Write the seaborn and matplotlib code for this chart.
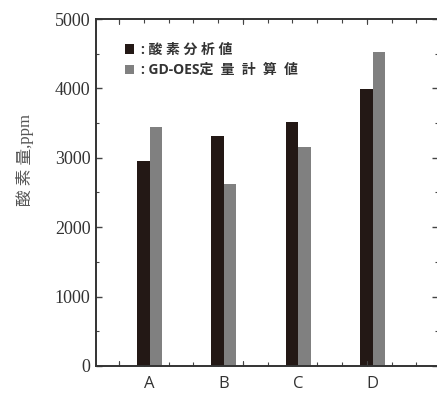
import numpy as np
import pandas as pd
import matplotlib
matplotlib.use("Agg")
import matplotlib.pyplot as plt
from matplotlib.patches import Patch
from matplotlib.ticker import MultipleLocator, FixedLocator
import seaborn as sns

# Oxygen content per sample: chemical analysis vs. GD-OES quantitative calculation
samples = ["A", "B", "C", "D"]
analysis_ppm = [2950, 3320, 3520, 3990]
gdoes_ppm = [3440, 2620, 3150, 4520]
series_names = ["酸素分析値", "GD-OES定量計算値"]
y_ticks = [0, 1000, 2000, 3000, 4000, 5000]

df = pd.DataFrame({
    "sample": samples * 2,
    "ppm": analysis_ppm + gdoes_ppm,
    "series": [series_names[0]] * len(samples) + [series_names[1]] * len(samples),
})

sns.set_theme(style="ticks")
plt.rcParams["font.family"] = ["Liberation Serif", "Noto Sans CJK JP"]

fig = plt.figure(figsize=(4.37, 3.96), dpi=100)
ax = fig.add_axes([0.2197, 0.0758, 0.7826, 0.8762])

bar_colors = ["#231815", "#808080"]
sns.barplot(data=df, x="sample", y="ppm", hue="series", hue_order=series_names,
            palette=bar_colors, width=0.336, gap=0, dodge=True,
            saturation=1, linewidth=0, legend=False, ax=ax)

ax.set_xlim(-0.72, 3.881)
ax.set_ylim(0, 5000)

# y axis
ax.yaxis.set_major_locator(FixedLocator(y_ticks))
ax.yaxis.set_minor_locator(MultipleLocator(500))
ax.set_yticklabels([str(v) for v in y_ticks], fontsize=13,
                   family="Liberation Serif", color="#333333")

# x axis: category labels plus a separate inward tick grid
ax.set_xticks(range(len(samples)))
ax.set_xticklabels(samples, fontsize=12, family="Open Sans", color="#333333")
tick_x = [-0.41 + k / 3 for k in range(14)]
major_x = [tick_x[0], tick_x[5], tick_x[10]]
ax.xaxis.set_minor_locator(FixedLocator(tick_x))

ax.tick_params(axis="both", which="both", direction="in", color="#444444",
               top=True, right=True)
ax.tick_params(axis="y", which="major", length=4, width=1, pad=4)
ax.tick_params(axis="y", which="minor", length=2.5, width=0.8)
ax.tick_params(axis="x", which="major", length=0, pad=7)
ax.tick_params(axis="x", which="minor", length=3, width=0.8)
# longer ticks at every fifth x tick
for xm in major_x:
    ax.plot([xm, xm], [0, 75], color="#444444", lw=0.8, clip_on=False)
    ax.plot([xm, xm], [5000, 4925], color="#444444", lw=0.8, clip_on=False)

for side in ["left", "bottom", "top", "right"]:
    ax.spines[side].set_visible(True)
    ax.spines[side].set_linewidth(1.4)
    ax.spines[side].set_color("#333333")

ax.set_xlabel("")
ax.set_ylabel("酸 素 量,ppm", fontsize=12, color="#555555",
              family=["Liberation Serif", "Noto Sans CJK JP"])
ax.yaxis.set_label_coords(-0.181, 0.594)

handles = [Patch(facecolor=c, edgecolor="none") for c in bar_colors]
labels = [": " + " ".join(series_names[0]), ": GD-OES" + "  ".join("定量計算値")]
leg = ax.legend(handles, labels, loc="upper left", bbox_to_anchor=(0.068, 0.947),
                frameon=False, handlelength=0.65, handleheight=0.65,
                handletextpad=0.5, labelspacing=0.45, borderaxespad=0,
                prop={"family": ["Open Sans", "Noto Sans CJK JP"],
                      "weight": "bold", "size": 10})
for t in leg.get_texts():
    t.set_color("#333333")

fig.savefig("out.png", dpi=100)
